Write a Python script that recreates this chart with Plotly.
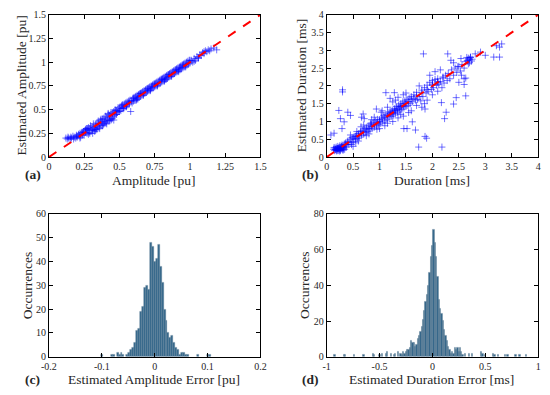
import plotly.graph_objects as go

# ---------------- (a) Amplitude scatter ----------------
amp_true = [0.12,0.13,0.135,0.14,0.15,0.155,0.16,0.17,0.175,0.18,0.19,0.195,0.2,0.21,0.215,0.22,0.225,0.23,0.235,0.24,
            0.245,0.25,0.255,0.26,0.265,0.27,0.275,0.28,0.285,0.29,0.295,0.3,0.305,0.31,0.315,0.32,0.325,0.33,0.335,0.34,
            0.345,0.35,0.355,0.36,0.365,0.37,0.375,0.38,0.385,0.39,0.395,0.4,0.405,0.41,0.415,0.42,0.425,0.43,0.435,0.44,
            0.445,0.45,0.455,0.46,0.465,0.47,0.475,0.48,0.485,0.49,0.495,0.5,0.505,0.51,0.515,0.52,0.525,0.53,0.535,0.54,
            0.545,0.55,0.555,0.56,0.565,0.57,0.575,0.58,0.585,0.59,0.595,0.6,0.605,0.61,0.615,0.62,0.625,0.63,0.635,0.64,
            0.645,0.65,0.655,0.66,0.665,0.67,0.675,0.68,0.685,0.69,0.695,0.7,0.705,0.71,0.715,0.72,0.725,0.73,0.735,0.74,
            0.745,0.75,0.755,0.76,0.765,0.77,0.775,0.78,0.785,0.79,0.795,0.8,0.805,0.81,0.815,0.82,0.825,0.83,0.835,0.84,
            0.845,0.85,0.855,0.86,0.865,0.87,0.875,0.88,0.885,0.89,0.895,0.9,0.905,0.91,0.915,0.92,0.925,0.93,0.935,0.94,
            0.945,0.95,0.955,0.96,0.965,0.97,0.975,0.98,0.985,0.99,0.995,1.0,1.01,1.02,1.03,1.04,1.05,1.06,1.07,1.08,
            1.09,1.1,1.11,1.12,1.13,1.14,1.15,1.17,1.19,
            0.28,0.33,0.38,0.43,0.48,0.53,0.63,0.73,0.83,0.93,0.36,0.41,0.31,0.46,
            0.2,0.22,0.26,0.29,0.32,0.35,0.37,0.4,0.42,0.45,0.47,0.5,0.52,0.55,0.57,0.6,0.62,0.65,0.67,0.7,
            0.72,0.75,0.77,0.8,0.82,0.85,0.87,0.9,0.92,0.95,0.97,1.0,1.03,1.06,1.1,0.34,0.39,0.44,0.27,0.24]
amp_est = [0.20,0.19,0.21,0.20,0.19,0.21,0.20,0.22,0.19,0.21,0.20,0.23,0.21,0.24,0.22,0.25,0.21,0.26,0.23,0.24,
           0.27,0.23,0.28,0.26,0.30,0.25,0.29,0.31,0.26,0.30,0.33,0.28,0.32,0.29,0.35,0.31,0.27,0.34,0.30,0.36,
           0.32,0.38,0.31,0.35,0.39,0.33,0.37,0.40,0.34,0.41,0.37,0.43,0.36,0.42,0.39,0.45,0.38,0.44,0.41,0.47,
           0.40,0.46,0.43,0.48,0.44,0.50,0.45,0.49,0.47,0.52,0.48,0.51,0.53,0.49,0.54,0.51,0.55,0.52,0.56,0.53,
           0.57,0.54,0.58,0.55,0.59,0.56,0.60,0.48,0.59,0.57,0.62,0.59,0.63,0.60,0.64,0.61,0.65,0.62,0.66,0.63,
           0.67,0.64,0.68,0.65,0.69,0.66,0.70,0.67,0.71,0.68,0.72,0.69,0.73,0.70,0.74,0.71,0.75,0.72,0.76,0.73,
           0.77,0.74,0.78,0.75,0.79,0.76,0.80,0.77,0.81,0.78,0.82,0.79,0.83,0.80,0.84,0.81,0.85,0.82,0.86,0.83,
           0.87,0.84,0.88,0.85,0.89,0.86,0.90,0.87,0.91,0.88,0.92,0.89,0.93,0.90,0.94,0.91,0.95,0.92,0.96,0.93,
           0.97,0.94,0.98,0.95,0.99,0.96,1.00,0.97,1.01,0.98,1.02,0.99,1.02,1.00,1.04,1.02,1.06,1.05,1.08,1.07,
           1.10,1.09,1.12,1.11,1.13,1.12,1.14,1.15,1.13,
           0.24,0.29,0.33,0.39,0.45,0.51,0.61,0.74,0.82,0.94,0.30,0.35,0.25,0.39,
           0.22,0.20,0.29,0.25,0.28,0.35,0.40,0.38,0.46,0.41,0.49,0.48,0.55,0.53,0.58,0.62,0.60,0.67,0.65,0.72,
           0.70,0.77,0.75,0.82,0.80,0.87,0.85,0.92,0.90,0.97,0.95,1.02,1.01,1.04,1.11,0.29,0.35,0.39,0.30,0.26]

# ---------------- (b) Duration scatter ----------------
dur_true = [0.13,0.15,0.16,0.17,0.18,0.19,0.2,0.21,0.22,0.23,0.24,0.25,0.26,0.27,0.28,0.29,0.3,0.31,0.32,0.33,0.34,0.35,0.36,0.37,0.38,
            0.14,0.18,0.22,0.26,0.3,0.2,0.24,0.28,0.16,0.32,
            0.4,0.42,0.44,0.46,0.48,0.5,0.52,0.54,0.56,0.58,0.6,0.62,0.64,0.66,0.68,0.7,0.72,0.74,0.76,0.78,0.8,0.82,0.84,0.86,0.88,0.9,0.92,0.94,0.96,0.98,
            0.45,0.55,0.65,0.75,0.85,0.95,0.5,0.6,0.7,0.8,0.9,1.0,0.57,0.83,0.47,
            1.0,1.02,1.04,1.06,1.08,1.1,1.12,1.14,1.16,1.18,1.2,1.22,1.24,1.26,1.28,1.3,1.32,1.34,1.36,1.38,1.4,1.42,1.44,1.46,1.48,1.5,1.52,1.54,1.56,1.58,1.6,
            1.05,1.15,1.25,1.35,1.45,1.55,1.2,1.3,1.4,1.5,1.1,1.35,1.45,1.25,1.6,1.15,
            1.62,1.65,1.68,1.7,1.72,1.75,1.78,1.8,1.82,1.85,1.88,1.9,1.92,1.95,1.98,2.0,2.02,2.05,2.08,2.1,2.12,2.15,2.18,2.2,2.22,2.25,2.28,
            1.7,1.75,1.8,1.9,2.0,2.05,2.1,1.95,2.15,1.85,2.0,2.1,
            2.3,2.33,2.36,2.4,2.43,2.46,2.5,2.53,2.56,2.6,2.63,2.66,2.68,2.7,2.72,2.74,2.7,2.68,2.75,2.65,2.6,2.5,2.4,2.55,
            0.3,0.3,0.23,0.4,0.45,0.14,0.08,0.29,0.33,0.26,0.71,0.69,0.66,0.94,1.03,1.12,1.28,1.25,
            1.83,1.74,1.89,1.86,2.18,2.23,2.26,2.17,2.4,2.45,2.63,2.6,2.63,2.48,2.91,3.0,3.27,3.16,3.27,3.31,3.21,
            2.29,2.35,2.81,2.72,2.66,2.54,1.46,1.52,1.68,1.62,1.86,
            0.5,0.55,0.6,0.65,0.7,0.75,0.8,0.85,0.9,0.95,1.0,1.05,1.1,1.15,1.2,1.25,1.3,1.35,1.4,1.45,
            1.5,1.55,1.6,1.65,1.7,1.8,1.9,2.0,2.1,2.2,1.22,1.28,1.33,1.38,1.42,1.48,0.35,0.4,0.25,0.2]
dur_est = [0.22,0.18,0.25,0.21,0.28,0.17,0.23,0.30,0.19,0.26,0.21,0.32,0.18,0.27,0.23,0.34,0.20,0.29,0.25,0.36,0.22,0.31,0.40,0.28,0.35,
           0.27,0.20,0.24,0.22,0.26,0.19,0.17,0.30,0.21,0.20,
           0.45,0.36,0.50,0.41,0.55,0.44,0.58,0.49,0.62,0.52,0.66,0.56,0.72,0.60,0.75,0.64,0.80,0.69,0.84,0.72,0.88,0.76,0.92,0.80,0.98,0.84,1.02,0.88,1.06,0.91,
           0.62,0.40,0.85,0.60,1.05,0.78,0.30,0.45,0.90,0.65,1.12,0.80,0.72,0.95,0.35,
           1.05,0.95,1.12,0.98,1.16,1.02,1.20,1.06,1.24,1.10,1.28,1.14,1.32,1.18,1.36,1.22,1.42,1.26,1.46,1.30,1.50,1.34,1.55,1.38,1.58,1.42,1.62,1.45,1.66,1.50,1.70,
           1.30,0.95,1.55,1.10,1.75,1.25,1.65,1.60,1.20,1.80,0.88,1.68,1.15,1.00,1.30,1.40,
           1.55,1.75,1.60,1.82,1.62,1.70,1.58,1.88,1.70,1.95,1.80,2.02,1.85,2.10,1.90,2.15,1.95,2.18,2.02,2.20,2.05,2.12,1.95,2.25,2.08,2.30,2.15,
           1.45,2.00,1.40,1.60,1.75,2.40,1.85,2.30,2.45,1.50,2.05,2.12,
           2.35,2.20,2.45,2.30,2.50,2.38,2.55,2.42,2.60,2.50,2.68,2.70,2.62,2.75,2.80,2.70,2.65,2.78,2.75,2.80,2.20,2.10,2.65,2.30,
           1.89,1.83,1.31,1.26,1.17,0.67,0.62,0.80,0.99,1.08,1.08,1.21,1.12,1.35,1.26,1.81,1.81,1.21,
           2.90,0.28,0.53,0.58,0.28,1.08,1.26,1.53,1.49,1.67,1.72,2.04,2.22,2.54,2.95,2.86,3.09,2.81,2.81,3.18,3.13,
           2.90,2.72,2.90,2.81,2.72,2.77,0.80,0.80,0.76,0.99,1.35,
           0.52,0.58,0.60,0.68,0.72,0.78,0.80,0.86,0.92,0.96,1.00,1.08,1.12,1.16,1.22,1.26,1.32,1.36,1.42,1.44,
           1.52,1.56,1.62,1.65,1.72,1.82,1.90,2.02,2.10,2.22,1.25,1.30,1.33,1.40,1.43,1.50,0.36,0.42,0.28,0.24]

# ---------------- (c) Amplitude error histogram ----------------
amp_err_bins = [-0.1000,-0.0814,-0.0777,-0.0703,-0.0666,-0.0629,-0.0592,-0.0518,-0.0481,-0.0444,-0.0407,-0.0370,-0.0333,
                -0.0296,-0.0259,-0.0222,-0.0185,-0.0148,-0.0111,-0.0074,-0.0037,0.0,0.0037,0.0074,0.0111,0.0148,0.0185,
                0.0222,0.0259,0.0296,0.0333,0.0370,0.0407,0.0444,0.0481,0.0518,0.0555,0.0592,0.0629,0.0814,0.1000,0.1037]
amp_err_counts = [1,1,1,2,1,2,1,1,2,3,4,6,11,
                  12,19,21,29,30,28,48,46,40,41,47,38,31,20,
                  15,10,8,9,6,4,3,1,2,2,1,1,1,1,1]
amp_bin_width = 0.0037

# ---------------- (d) Duration error histogram ----------------
dur_err_bins = [-0.925,-0.8375,-0.825,-0.7375,-0.65,-0.5625,-0.55,-0.5,-0.475,-0.4375,-0.425,-0.3875,-0.3625,-0.35,-0.325,-0.3,-0.2875,-0.275,-0.2625,
                -0.25,-0.2375,-0.225,-0.2125,-0.2,-0.1875,-0.175,-0.1625,-0.15,-0.1375,-0.125,-0.1125,-0.1,-0.0875,-0.075,-0.0625,-0.05,-0.0375,-0.025,-0.0125,
                0.0,0.0125,0.025,0.0375,0.05,0.0625,0.075,0.0875,0.1,0.1125,0.125,0.1375,0.15,0.1625,0.175,0.1875,0.2,0.2125,0.225,0.2375,0.25,0.2625,0.275,0.2875,
                0.3125,0.35,0.375,0.4625,0.475,0.5,0.575,0.5875,0.625,0.6875,0.7125,0.7875,0.825,0.8875]
dur_err_counts = [1,1,1,1,1,2,1,1,2,2,3,2,1,2,3,2,1,3,2,
                  3,4,4,5,9,8,8,6,7,10,12,14,17,21,26,31,35,40,47,56,
                  62,71,64,56,45,32,27,24,20,15,12,9,6,4,2,3,2,5,4,5,3,5,3,1,
                  2,2,2,3,2,1,2,1,1,1,1,1,1,1]
dur_bin_width = 0.0125

# ---------------- figure ----------------
FONT = "Liberation Serif"
marker_style = dict(symbol="cross-thin", size=5, line=dict(width=1, color="rgba(0,0,255,0.55)"))
bar_fill = "#36698c"
bar_edge = "#5f7f95"

fig = go.Figure()
fig.add_trace(go.Scatter(x=amp_true, y=amp_est, mode="markers", marker=marker_style, xaxis="x", yaxis="y"))
fig.add_trace(go.Scatter(x=[0, 1.5], y=[0, 1.5], mode="lines", line=dict(color="red", width=2, dash="dash"), xaxis="x", yaxis="y"))
fig.add_trace(go.Scatter(x=dur_true, y=dur_est, mode="markers", marker=marker_style, xaxis="x2", yaxis="y2"))
fig.add_trace(go.Scatter(x=[0, 4], y=[0, 4], mode="lines", line=dict(color="red", width=2, dash="dash"), xaxis="x2", yaxis="y2"))
fig.add_trace(go.Bar(x=amp_err_bins, y=amp_err_counts, width=amp_bin_width,
                     marker=dict(color=bar_fill, line=dict(color=bar_edge, width=0.4)), xaxis="x3", yaxis="y3"))
fig.add_trace(go.Bar(x=dur_err_bins, y=dur_err_counts, width=dur_bin_width,
                     marker=dict(color=bar_fill, line=dict(color=bar_edge, width=0.4)), xaxis="x4", yaxis="y4"))

W, H = 550, 395
def dx(a, b): return [a / W, b / W]
def dy(top, bottom): return [1 - bottom / H, 1 - top / H]

ax = dict(showline=True, linecolor="black", linewidth=1, mirror="ticks", ticks="inside", ticklen=4,
          tickcolor="black", showgrid=False, zeroline=False, ticklabeloverflow="allow",
          tickfont=dict(family=FONT, size=10, color="#262626"))

fig.update_layout(
    width=W, height=H, margin=dict(l=0, r=0, t=0, b=0), showlegend=False,
    plot_bgcolor="white", paper_bgcolor="white", bargap=0,
    font=dict(family=FONT, color="#262626"),
    xaxis=dict(ax, domain=dx(42, 259), range=[0, 1.5], tickvals=[0, 0.25, 0.5, 0.75, 1, 1.25, 1.5],
               ticktext=["0", "0.25", "0.5", "0.75", "1", "1.25", "1.5"], anchor="y"),
    yaxis=dict(ax, domain=dy(10, 156), range=[0, 1.5], tickvals=[0, 0.25, 0.5, 0.75, 1, 1.25, 1.5],
               ticktext=["0", "0.25", "0.5", "0.75", "1", "1.25", "1.5"], anchor="x"),
    xaxis2=dict(ax, domain=dx(327, 544), range=[0, 4], tickvals=[0, 0.5, 1, 1.5, 2, 2.5, 3, 3.5, 4],
                ticktext=["0", "0.5", "1", "1.5", "2", "2.5", "3", "3.5", "4"], anchor="y2"),
    yaxis2=dict(ax, domain=dy(10, 156), range=[0, 4], tickvals=[0, 0.5, 1, 1.5, 2, 2.5, 3, 3.5, 4],
                ticktext=["0", "0.5", "1", "1.5", "2", "2.5", "3", "3.5", "4"], anchor="x2"),
    xaxis3=dict(ax, domain=dx(42, 259), range=[-0.2, 0.2], tickvals=[-0.2, -0.1, 0, 0.1, 0.2],
                ticktext=["-0.2", "-0.1", "0", "0.1", "0.2"], anchor="y3"),
    yaxis3=dict(ax, domain=dy(214, 361), range=[0, 60], dtick=10, anchor="x3"),
    xaxis4=dict(ax, domain=dx(327, 544), range=[-1, 1], tickvals=[-1, -0.5, 0, 0.5, 1],
                ticktext=["-1", "-0.5", "0", "0.5", "1"], anchor="y4"),
    yaxis4=dict(ax, domain=dy(214, 361), range=[0, 80], dtick=20, anchor="x4"),
)

def ann(text, px, py, size=13.5, angle=0, bold=False):
    fig.add_annotation(text=f"<b>{text}</b>" if bold else text, x=px / W, y=1 - py / H, xref="paper", yref="paper",
                       showarrow=False, textangle=angle, font=dict(family=FONT, size=size, color="#262626"),
                       xanchor="center", yanchor="middle")

ann("Estimated Amplitude [pu]", 14, 83, angle=-90)
ann("Amplitude [pu]", 150, 180)
ann("(a)", 26, 174, bold=True)
ann("Estimated Duration [ms]", 302, 83, angle=-90)
ann("Duration [ms]", 435, 180)
ann("(b)", 310, 174, bold=True)
ann("Occurrences", 20, 288, angle=-90)
ann("Estimated Amplitude Error [pu]", 150, 384)
ann("(c)", 25, 384, bold=True)
ann("Occurrences", 304, 288, angle=-90)
ann("Estimated Duration Error [ms]", 435, 384)
ann("(d)", 310, 384, bold=True)

fig.write_html("out.html", config={"displayModeBar": False},
               post_script="document.body.style.margin='0';document.body.style.overflow='hidden';")
